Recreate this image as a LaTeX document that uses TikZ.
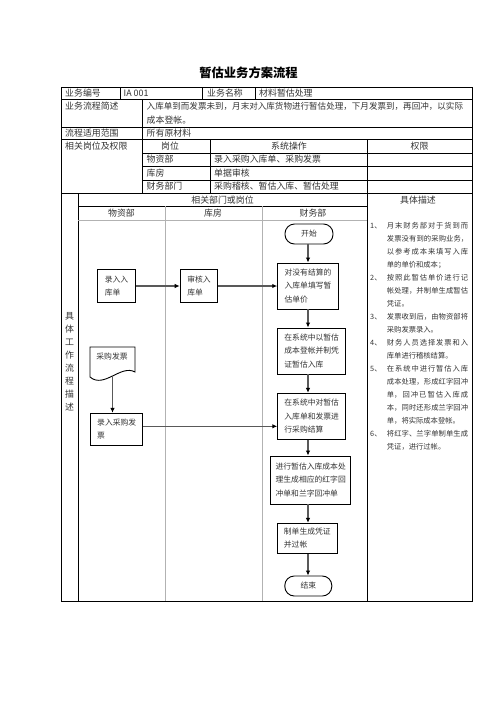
\documentclass[tikz,border=0pt]{standalone}
\usepackage{fontspec}
\setmainfont{Noto Sans CJK SC}
\usetikzlibrary{arrows.meta}
\XeTeXlinebreaklocale "zh"
\XeTeXlinebreakskip=0pt plus 2pt
\newcommand\mytabfont{\fontsize{8.9}{13}\selectfont}
\newcommand\myboxfont{\fontsize{7.8}{13.4}\selectfont}
\newcommand\mydescfont{\fontsize{7.3}{13}\selectfont}
\tikzset{
 tline/.style={line width=0.9pt, draw=black},
 gline/.style={line width=0.6pt, draw=black!30},
 ttext/.style={font=\mytabfont, text=black!80, inner sep=0pt, anchor=west},
 ctext/.style={font=\mytabfont, text=black!80, inner sep=0pt},
 bx/.style 2 args={draw=black, line width=0.9pt, align=left, inner sep=0pt, font=\myboxfont, text=black!80, minimum width=#1, minimum height=#2},
 term/.style={draw=black, line width=0.9pt, rounded corners=9.5pt, minimum width=48pt, minimum height=20pt, inner sep=0pt, font=\myboxfont, text=black!80},
 flow/.style={line width=1.3pt, draw=black!65, -{Latex[length=5pt,width=4.5pt,black]}},
 desc/.style={font=\mydescfont, text=black!80, inner sep=0pt, anchor=north west, text width=98pt, align=justify},
}
\begin{document}
\begin{tikzpicture}[x=1pt,y=-1pt]
\useasboundingbox (0,0) rectangle (496,702);
% title
\node[font=\bfseries\fontsize{12.3}{14}\selectfont, inner sep=0pt] (title) at (248.5,73) {暂估业务方案流程};
% table frame
\draw[tline] (61,87) rectangle (472,601);
\draw[tline] (61,99) -- (472,99);
\draw[tline] (61,127) -- (472,127);
\draw[tline] (61,139) -- (472,139);
\draw[tline] (142,153) -- (472,153);
\draw[tline] (142,166) -- (472,166);
\draw[tline] (142,180) -- (472,180);
\draw[tline] (61,193) -- (472,193);
\draw[tline] (120,87) -- (120,99);
\draw[tline] (202,87) -- (202,99);
\draw[tline] (255,87) -- (255,99);
\draw[tline] (142,99) -- (142,193);
\draw[tline] (210,139) -- (210,193);
\draw[tline] (367,139) -- (367,601);
\draw[tline] (78,193) -- (78,601);
\draw[tline] (78,206) -- (367,206);
\draw[gline] (78,220) -- (367,220);
\draw[gline] (165,206) -- (165,601);
\draw[gline] (262,206) -- (262,601);
% table texts
\node[ttext] (r1a) at (65,93) {业务编号};
\node[ttext] (r1b) at (123.5,93) {IA 001};
\node[ttext] (r1c) at (207,93) {业务名称};
\node[ttext] (r1d) at (259,93) {材料暂估处理};
\node[ttext] (r2a) at (65,106) {业务流程简述};
\node[ttext, font=\fontsize{8.55}{13}\selectfont] (r2b) at (146.5,106) {入库单到而发票未到，月末对入库货物进行暂估处理，下月发票到，再回冲，以实际};
\node[ttext] (r2c) at (146.5,120) {成本登帐。};
\node[ttext] (r3a) at (65,133) {流程适用范围};
\node[ttext] (r3b) at (146.5,133) {所有原材料};
\node[ttext] (r4a) at (65,146) {相关岗位及权限};
\node[ctext] (r4b) at (170,146) {岗位};
\node[ctext] (r4c) at (289,146) {系统操作};
\node[ctext] (r4d) at (419.5,146) {权限};
\node[ttext] (r5a) at (146.5,159.5) {物资部};
\node[ttext] (r5b) at (214,159.5) {录入采购入库单、采购发票};
\node[ttext] (r6a) at (146.5,173) {库房};
\node[ttext] (r6b) at (214,173) {单据审核};
\node[ttext] (r7a) at (146.5,186.5) {财务部门};
\node[ttext] (r7b) at (214,186.5) {采购稽核、暂估入库、暂估处理};
% flow headers
\node[ctext] (hdr) at (222.5,200) {相关部门或岗位};
\node[ctext] (ln1) at (121.5,213.3) {物资部};
\node[ctext] (ln2) at (213,213.3) {库房};
\node[ctext] (ln3) at (313,213.3) {财务部};
\node[ctext] (dhdr) at (418,200) {具体描述};
\node[ctext, align=center] (vt) at (69.5,361.5) {具\\体\\工\\作\\流\\程\\描\\述};
% flow nodes
\node[term] (start) at (309,234) {开始};
\node[bx={60.6pt}{46pt}] (n1) at (308,286) {对没有结算的\\入库单填写暂\\估单价};
\node[bx={38.4pt}{32.7pt}] (a1) at (116.5,286) {录入入\\库单};
\node[bx={37.7pt}{32.7pt}] (a2) at (199,286) {审核入\\库单};
\node[bx={68pt}{46pt}] (n2) at (311.7,351) {在系统中以暂估\\成本登帐并制凭\\证暂估入库};
\node[ctext, font=\myboxfont] (doc) at (112,357) {采购发票};
\draw[line width=0.9pt] (90,347) -- (135,347) -- (135,372) .. controls (121,364) and (104,389) .. (90,377) -- cycle;
\coordinate (docb) at (112.5,376);
\node[bx={52pt}{32pt}] (b1) at (116.7,429.3) {录入采购发\\票};
\node[bx={68pt}{46pt}] (n3) at (311.7,416.3) {在系统中对暂估\\入库单和发票进\\行采购结算};
\node[bx={80pt}{48pt}] (n4) at (310.7,480) {进行暂估入库成本处\\理生成相应的红字回\\冲单和兰字回冲单};
\node[bx={60pt}{30pt}] (n5) at (307.3,538.3) {制单生成凭证\\并过帐};
\node[term, minimum width=47pt] (end) at (308.3,586) {结束};
% connectors
\draw[flow] (start.south -| n1.south) -- (n1.north);
\draw[flow] (a1.east) -- (a2.west);
\draw[flow] (a2.east) -- (n1.west);
\draw[flow] (n1.south) -- (n1.south |- n2.north);
\draw[flow] (n1.south |- n2.south) -- (n1.south |- n3.north);
\draw[flow] (docb) -- (docb |- b1.north);
\draw[flow] ([yshift=3pt]b1.east) -- ([yshift=3pt]b1.east -| n3.west);
\draw[flow] (n1.south |- n3.south) -- (n1.south |- n4.north);
\draw[flow] (n1.south |- n4.south) -- (n1.south |- n5.north);
\draw[flow] (n1.south |- n5.south) -- (n1.south |- end.north);
% descriptions
\node[desc] (d1) at (370,221.9) {\hangindent=16.7pt\hangafter=1\makebox[16.7pt][l]{1、}月末财务部对于货到而\linebreak 发票没有到的采购业务，\linebreak 以参考成本来填写入库\linebreak 单的单价和成本；\par};
\node[desc] (d2) at (370,273.9) {\hangindent=16.7pt\hangafter=1\makebox[16.7pt][l]{2、}按照此暂估单价进行记\linebreak 帐处理，并制单生成暂估\linebreak 凭证。\par};
\node[desc] (d3) at (370,312.9) {\hangindent=16.7pt\hangafter=1\makebox[16.7pt][l]{3、}发票收到后，由物资部将\linebreak 采购发票录入。\par};
\node[desc] (d4) at (370,338.9) {\hangindent=16.7pt\hangafter=1\makebox[16.7pt][l]{4、}财务人员选择发票和入\linebreak 库单进行稽核结算。\par};
\node[desc] (d5) at (370,364.9) {\hangindent=16.7pt\hangafter=1\makebox[16.7pt][l]{5、}在系统中进行暂估入库\linebreak 成本处理，形成红字回冲\linebreak 单，回冲已暂估入库成\linebreak 本，同时还形成兰字回冲\linebreak 单，将实际成本登帐。\par};
\node[desc] (d6) at (370,429.9) {\hangindent=16.7pt\hangafter=1\makebox[16.7pt][l]{6、}将红字、兰字单制单生成\linebreak 凭证，进行过帐。\par};
\end{tikzpicture}
\end{document}
